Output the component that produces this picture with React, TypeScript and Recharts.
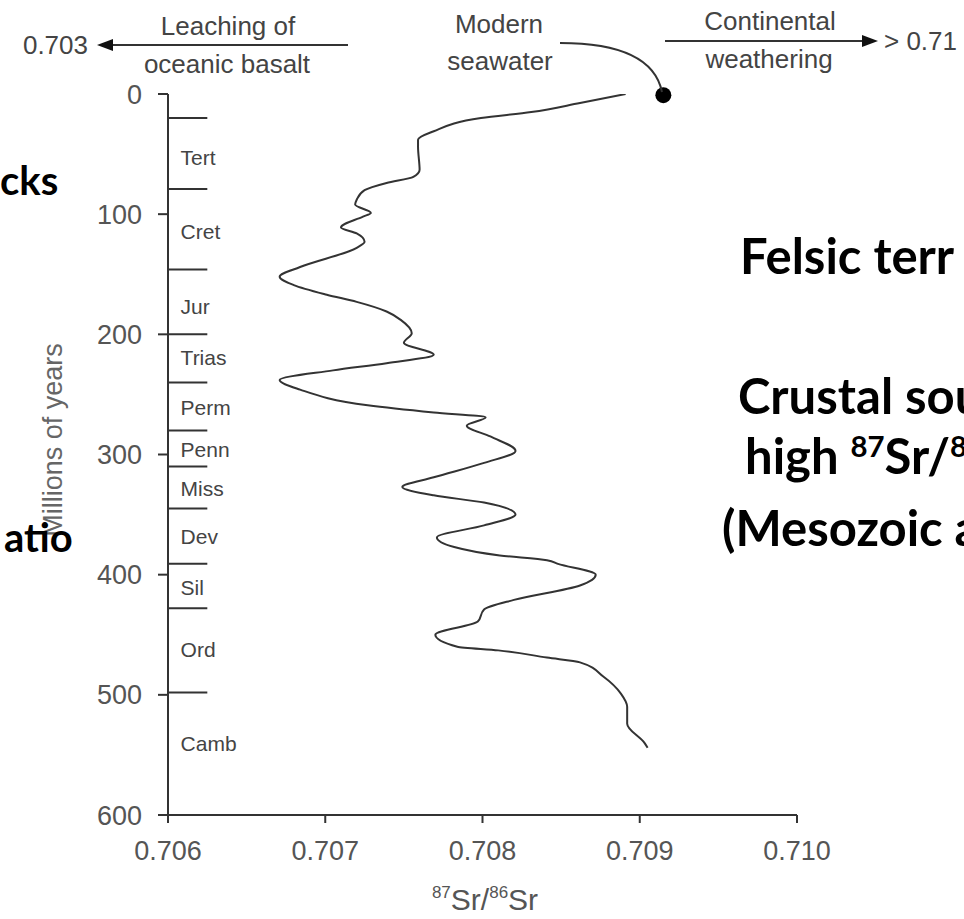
import { LineChart, Line, XAxis, YAxis, ReferenceLine, ReferenceDot } from 'recharts'

// Sr isotope curve (age in Ma, ratio)
const ages = [
  0, 7.5, 15, 20, 31, 38, 44, 63, 69, 74, 80, 88, 92, 99, 102, 111, 116, 123, 128,
  144, 152, 159, 167, 173, 181, 188, 199, 207, 217, 224, 230, 238, 246, 259, 265,
  269, 276, 285, 297, 307, 319, 327, 334, 340, 350, 359, 369, 377, 384, 388, 391,
  400, 409, 421, 429, 439, 450, 460, 463, 469, 473, 485, 499, 510, 524, 540, 544,
]
const srRatios = [
  0.70891, 0.70862, 0.70831, 0.70799, 0.70769, 0.70759, 0.70759, 0.7076, 0.70756,
  0.70739, 0.70725, 0.7072, 0.70719, 0.70729, 0.70724, 0.7071, 0.7072, 0.70725,
  0.7072, 0.70684, 0.70671, 0.7068, 0.70701, 0.7072, 0.70739, 0.70748, 0.70755,
  0.7075, 0.70769, 0.70739, 0.70705, 0.70671, 0.70684, 0.70727, 0.70769, 0.70802,
  0.7079, 0.70805, 0.70821, 0.70801, 0.70769, 0.70749, 0.70769, 0.70801, 0.70821,
  0.70801, 0.70771, 0.70782, 0.70811, 0.70841, 0.70848, 0.70872, 0.70862, 0.7082,
  0.70801, 0.70797, 0.7077, 0.70784, 0.7081, 0.70841, 0.70862, 0.70877, 0.70888,
  0.70892, 0.70892, 0.70903, 0.70905,
]

const xTicks = [0.706, 0.707, 0.708, 0.709, 0.71]
const yTicks = [0, 100, 200, 300, 400, 500, 600]

// geological periods along the age axis
const eraBoundaries = [20, 79, 146, 200, 240, 280, 310, 345, 391, 428, 498]
const eraNames = ['Tert', 'Cret', 'Jur', 'Trias', 'Perm', 'Penn', 'Miss', 'Dev', 'Sil', 'Ord', 'Camb']
const eraLabelAges = [53, 115, 177, 220, 261, 296, 329, 369, 411, 463, 541]

const seawaterAge = 1
const seawaterRatio = 0.70915

const data = ages.map((age, i) => ({ age, sr: srRatios[i] }))

const CHART_FONT = '"Liberation Sans", Arial, sans-serif'
const SLIDE_FONT = 'Lato, "Open Sans", sans-serif'
const INK = '#333'

function SlideText({
  left,
  top,
  size,
  children,
}: {
  left: number
  top: number
  size: number
  children: React.ReactNode
}) {
  return (
    <div
      style={{
        position: 'absolute',
        left,
        top,
        fontFamily: SLIDE_FONT,
        fontWeight: 700,
        fontSize: size,
        lineHeight: 1,
        color: '#000',
        whiteSpace: 'nowrap',
      }}
    >
      {children}
    </div>
  )
}

function Annotations() {
  const txt = { fontFamily: CHART_FONT, fontSize: 26, fill: '#444' }
  return (
    <svg width={964} height={919} style={{ position: 'absolute', left: 0, top: 0, pointerEvents: 'none' }}>
      {/* left arrow: leaching of oceanic basalt */}
      <text x={88} y={54} textAnchor="end" {...txt}>0.703</text>
      <line x1={348} y1={45} x2={108} y2={45} stroke={INK} strokeWidth={2} />
      <polygon points="97,45 113,39 113,51" fill="#111" />
      <text x={228} y={35} textAnchor="middle" {...txt}>Leaching of</text>
      <text x={227} y={73} textAnchor="middle" {...txt}>oceanic basalt</text>

      {/* modern seawater leader */}
      <text x={499} y={33} textAnchor="middle" {...txt}>Modern</text>
      <text x={500} y={70} textAnchor="middle" {...txt}>seawater</text>
      <path d="M 560 43 C 620 43, 655 58, 662 92" fill="none" stroke={INK} strokeWidth={2} />

      {/* right arrow: continental weathering */}
      <text x={770} y={30} textAnchor="middle" {...txt}>Continental</text>
      <text x={769} y={68} textAnchor="middle" {...txt}>weathering</text>
      <line x1={665} y1={41} x2={866} y2={41} stroke={INK} strokeWidth={2} />
      <polygon points="878,41 862,35 862,47" fill="#111" />
      <text x={884} y={50} {...txt}>&gt; 0.71</text>

      {/* axis titles */}
      <text
        transform="translate(62 440) rotate(-90)"
        textAnchor="middle"
        fontFamily={CHART_FONT}
        fontSize={27}
        fill="#666"
      >
        Millions of years
      </text>
      <text x={485} y={910} textAnchor="middle" fontFamily={CHART_FONT} fill="#555">
        <tspan fontSize={17} dy={-12}>87</tspan>
        <tspan fontSize={30} dy={12}>Sr/</tspan>
        <tspan fontSize={17} dy={-12}>86</tspan>
        <tspan fontSize={30} dy={12}>Sr</tspan>
      </text>
    </svg>
  )
}

export default function App() {
  return (
    <div
      style={{
        position: 'absolute',
        left: 0,
        top: 0,
        width: 964,
        height: 919,
        overflow: 'hidden',
        background: '#fff',
      }}
    >
      <LineChart
        width={964}
        height={919}
        data={data}
        layout="vertical"
        margin={{ top: 94, right: 167, bottom: 44, left: 0 }}
      >
        <XAxis
          type="number"
          domain={[0.706, 0.71]}
          ticks={xTicks}
          tickFormatter={(v: number) => v.toFixed(3)}
          height={60}
          tickSize={8}
          tickMargin={18}
          axisLine={{ stroke: INK, strokeWidth: 2 }}
          tickLine={{ stroke: INK, strokeWidth: 2 }}
          tick={{ fontSize: 27, fill: '#555', fontFamily: CHART_FONT }}
          allowDataOverflow
        />
        <YAxis
          type="number"
          dataKey="age"
          domain={[0, 600]}
          ticks={yTicks}
          width={168}
          tickSize={10}
          tickMargin={16}
          axisLine={{ stroke: INK, strokeWidth: 2 }}
          tickLine={{ stroke: INK, strokeWidth: 2 }}
          tick={{ fontSize: 27, fill: '#555', fontFamily: CHART_FONT }}
          allowDataOverflow
        />
        {eraBoundaries.map((age) => (
          <ReferenceLine
            key={age}
            segment={[
              { x: 0.706, y: age },
              { x: 0.70625, y: age },
            ]}
            stroke={INK}
            strokeWidth={2}
          />
        ))}
        {eraNames.map((name, i) => (
          <ReferenceDot
            key={name}
            x={0.70608}
            y={eraLabelAges[i]}
            r={0}
            shape={(p: any) => (
              <text x={p.cx} y={p.cy} dy={7} fontFamily={CHART_FONT} fontSize={21} fill="#444">
                {name}
              </text>
            )}
          />
        ))}
        <Line
          dataKey="sr"
          type="monotoneY"
          stroke={INK}
          strokeWidth={2}
          dot={false}
          isAnimationActive={false}
        />
        <ReferenceDot x={seawaterRatio} y={seawaterAge} r={8} fill="#000" stroke="none" />
      </LineChart>
      <Annotations />

      {/* slide text the figure was pasted over */}
      <SlideText left={0} top={160} size={40}>cks</SlideText>
      <SlideText left={4} top={517} size={40}>atio</SlideText>
      <SlideText left={740} top={231} size={49}>Felsic terr</SlideText>
      <SlideText left={738} top={371} size={49}>Crustal sou</SlideText>
      <SlideText left={745} top={431} size={49}>
        high <sup style={{ fontSize: '0.6em' }}>87</sup>Sr/<sup style={{ fontSize: '0.6em' }}>8</sup>
      </SlideText>
      <SlideText left={722} top={503} size={49}>(Mesozoic a</SlideText>
    </div>
  )
}
